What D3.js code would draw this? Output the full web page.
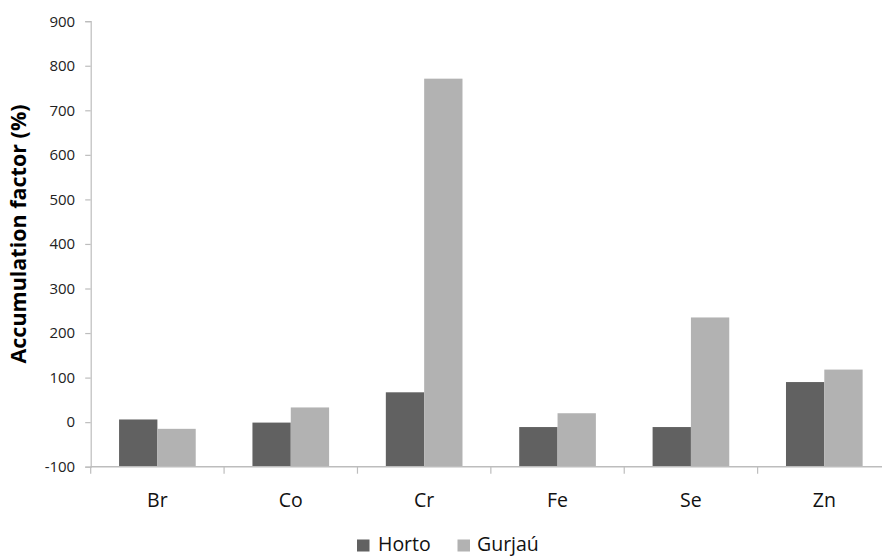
<!DOCTYPE html>
<html><head><meta charset="utf-8">
<script src="https://cdn.jsdelivr.net/npm/d3@7"></script>
<style>body{margin:0;background:#fff;} svg{display:block;font-family:"Open Sans",sans-serif;}</style>
</head><body>
<svg id="chart" width="882" height="556"></svg>
<script>
const categories = ["Br","Co","Cr","Fe","Se","Zn"];
const seriesNames = ["Horto","Gurjaú"];
const horto = [6, -1, 67, -11, -11, 90];
const gurjau = [-15, 33, 771, 20, 235, 118];
const yTicks = [-100,0,100,200,300,400,500,600,700,800,900];
const colors = ["#616161","#b2b2b2"];

const svg = d3.select("#chart");
const x0 = 90.7, x1 = 891, yTop = 21.2, yBot = 466.7;
const x = d3.scaleBand().domain(categories).range([x0, x1]).paddingInner(0).paddingOuter(0);
const y = d3.scaleLinear().domain([-100, 900]).range([yBot, yTop]);
const inner = d3.scaleBand().domain(seriesNames).range([0, x.bandwidth()]).paddingInner(0).paddingOuter(0.74);

const data = categories.map((c,i)=>({c, vals:[horto[i], gurjau[i]]}));

// bars (drawn from axis minimum, like Excel's crossing axis)
const g = svg.append("g");
data.forEach(d=>{
  d.vals.forEach((v,j)=>{
    g.append("rect")
      .attr("x", x(d.c) + inner(seriesNames[j]))
      .attr("width", inner.bandwidth())
      .attr("y", y(v))
      .attr("height", y(-100) - y(v))
      .attr("fill", colors[j]);
  });
});

// y axis
const yAxis = d3.axisLeft(y).tickValues(yTicks).tickSize(5.5).tickPadding(10)
  .tickFormat(d => String(d));
const ya = svg.append("g").attr("transform", `translate(${x0},0)`).call(yAxis);
ya.select(".domain").attr("stroke","#bdbdbd").attr("stroke-width",1.2);
ya.selectAll(".tick line").attr("stroke","#bdbdbd").attr("stroke-width",1.2);
ya.selectAll(".tick text").attr("font-size",15).attr("fill","#222").attr("font-family","'Open Sans',sans-serif");

// x axis
const xa = svg.append("g").attr("transform", `translate(0,${yBot})`);
xa.append("line").attr("x1",x0).attr("x2",x1).attr("y1",0).attr("y2",0).attr("stroke","#bdbdbd").attr("stroke-width",1.5);
const bounds = categories.map(c=>x(c)).concat([x1]);
xa.selectAll("line.tk").data(bounds).enter().append("line").attr("class","tk")
  .attr("x1",d=>d).attr("x2",d=>d).attr("y1",0).attr("y2",7).attr("stroke","#bdbdbd").attr("stroke-width",1.2);
xa.selectAll("text").data(categories).enter().append("text")
  .attr("x",d=>x(d)+x.bandwidth()/2).attr("y",40.8)
  .attr("text-anchor","middle").attr("font-size",19.5).attr("fill","#111").text(d=>d);

// y title
svg.append("text").attr("transform","translate(26,234) rotate(-90)")
  .attr("text-anchor","middle").attr("font-size",21.5).attr("font-weight","bold").attr("fill","#000")
  .text("Accumulation factor (%)");

// legend
const leg = svg.append("g");
const legItems = [{n:seriesNames[0], x:357, tx:378, c:colors[0]},{n:seriesNames[1], x:457.5, tx:477, c:colors[1]}];
legItems.forEach(it=>{
  leg.append("rect").attr("x",it.x).attr("y",539.5).attr("width",12.5).attr("height",12).attr("fill",it.c);
  leg.append("text").attr("x",it.tx).attr("y",550.8).attr("font-size",19.5).attr("fill","#111").text(it.n);
});
</script>
</body></html>
